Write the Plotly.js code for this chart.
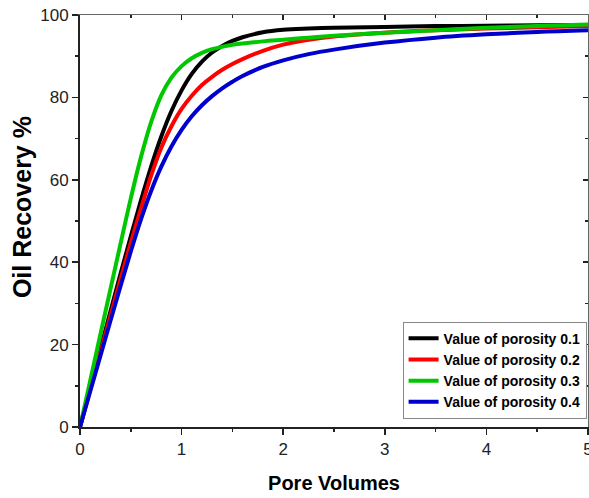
<!DOCTYPE html>
<html>
<head>
<meta charset="utf-8">
<script src="https://cdn.plot.ly/plotly-3.0.1.min.js"></script>
<style>html,body{margin:0;padding:0;background:#fff;}#chart{width:589px;height:498px;}</style>
</head>
<body>
<div id="chart"></div>
<script>
const poreVolumes = [0, 0.1, 0.2, 0.3, 0.4, 0.5, 0.6, 0.7, 0.8, 0.9, 1.0, 1.1, 1.2, 1.3, 1.4, 1.5, 1.6, 1.8, 2.0, 2.25, 2.5, 3.0, 3.5, 4.0, 4.5, 5.0];
const porosity01 = [0, 9.4, 18.8, 28.1, 37.3, 46.3, 55.0, 63.2, 70.5, 76.7, 81.7, 85.7, 88.7, 90.9, 92.5, 93.7, 94.6, 95.8, 96.4, 96.7, 96.9, 97.1, 97.3, 97.4, 97.5, 97.6];
const porosity02 = [0, 9, 18, 27, 36, 44.7, 53, 61, 67.8, 73, 77.2, 80.4, 83.0, 85.0, 86.7, 88.1, 89.3, 91.3, 92.8, 94.0, 94.8, 95.7, 96.3, 96.7, 97.0, 97.3];
const porosity03 = [0, 11.2, 22.4, 33.5, 44.6, 55.5, 65.5, 74, 80.5, 84.8, 87.6, 89.5, 90.8, 91.7, 92.3, 92.8, 93.1, 93.6, 94.0, 94.5, 94.95, 95.7, 96.3, 96.9, 97.3, 97.7];
const porosity04 = [0, 8.6, 17.2, 25.8, 34.3, 42.6, 50.4, 57.3, 63.2, 68.1, 72.1, 75.4, 78.1, 80.3, 82.2, 83.8, 85.2, 87.4, 89.0, 90.5, 91.6, 93.3, 94.5, 95.3, 95.9, 96.3];
const seriesNames = ["Value of porosity 0.1", "Value of porosity 0.2", "Value of porosity 0.3", "Value of porosity 0.4"];
const seriesValues = [porosity01, porosity02, porosity03, porosity04];
const seriesColors = ["#000000", "#ff0000", "#00c800", "#0000cc"];
const xTicks = [0, 1, 2, 3, 4, 5];
const yTicks = [0, 20, 40, 60, 80, 100];
const xTitle = 'Pore Volumes';
const yTitle = 'Oil Recovery %';

const traces = seriesValues.map((vals, i) => ({
  x: poreVolumes, y: vals, name: seriesNames[i], type: 'scatter', mode: 'lines',
  line: {color: seriesColors[i], width: 4, shape: 'spline', smoothing: 1}
}));
// invisible trace to activate the mirrored top/right axes
traces.push({x: [0], y: [0], xaxis: 'x2', yaxis: 'y2', showlegend: false, mode: 'markers', marker: {opacity: 0}, hoverinfo: 'skip'});

const fam = 'Liberation Sans, Arial, sans-serif';
const axisFont = {family: fam, size: 17, color: '#222'};
const layout = {
  width: 589, height: 498,
  margin: {l: 80, r: 1, t: 15, b: 71},
  paper_bgcolor: '#fff', plot_bgcolor: '#fff',
  showlegend: true,
  legend: {x: 0.635, y: 0.138, xanchor: 'left', yanchor: 'middle', bgcolor: '#fff', bordercolor: '#888', borderwidth: 1,
    font: {family: fam, size: 14, color: '#000', weight: 'bold'},
    tracegroupgap: 0, itemwidth: 30},
  xaxis: {range: [0, 5], tickvals: xTicks, ticktext: xTicks.map(String), ticks: 'outside', ticklen: 6, tickwidth: 1.5, tickcolor: '#222',
    ticklabeloverflow: 'allow',
    minor: {dtick: 0.5, ticks: 'outside', ticklen: 3, tickwidth: 1.5, tickcolor: '#222'},
    showline: true, linecolor: '#222', linewidth: 2, showgrid: false, zeroline: false, tickfont: axisFont,
    title: {text: xTitle, font: {family: fam, size: 20, color: '#000', weight: 'bold'}, standoff: 18}},
  yaxis: {range: [0, 100], tickvals: yTicks, ticktext: yTicks.map(String), ticks: 'outside', ticklen: 6, tickwidth: 1.5, tickcolor: '#222',
    ticklabeloverflow: 'allow',
    minor: {dtick: 10, ticks: 'outside', ticklen: 3, tickwidth: 1.5, tickcolor: '#222'},
    showline: true, linecolor: '#222', linewidth: 2, showgrid: false, zeroline: false, tickfont: axisFont},
  xaxis2: {overlaying: 'x', side: 'top', range: [0, 5], dtick: 1, ticks: 'inside', ticklen: 5, tickwidth: 1.5, tickcolor: '#222',
    minor: {dtick: 0.5, ticks: 'inside', ticklen: 3, tickwidth: 1.5, tickcolor: '#222'},
    showticklabels: false, showline: true, linecolor: '#666', linewidth: 1.5, showgrid: false, zeroline: false},
  yaxis2: {overlaying: 'y', side: 'right', range: [0, 100], dtick: 20, ticks: 'inside', ticklen: 5, tickwidth: 1.5, tickcolor: '#222',
    minor: {dtick: 10, ticks: 'inside', ticklen: 3, tickwidth: 1.5, tickcolor: '#222'},
    showticklabels: false, showline: true, linecolor: '#666', linewidth: 1.5, showgrid: false, zeroline: false},
  annotations: [{text: yTitle, xref: 'paper', yref: 'paper', x: -0.114, y: 0.534, xanchor: 'center', yanchor: 'middle',
    textangle: -90, showarrow: false, font: {family: fam, size: 25, color: '#000', weight: 'bold'}}]
};
Plotly.newPlot('chart', traces, layout, {displayModeBar: false, staticPlot: true});
</script>
</body>
</html>
